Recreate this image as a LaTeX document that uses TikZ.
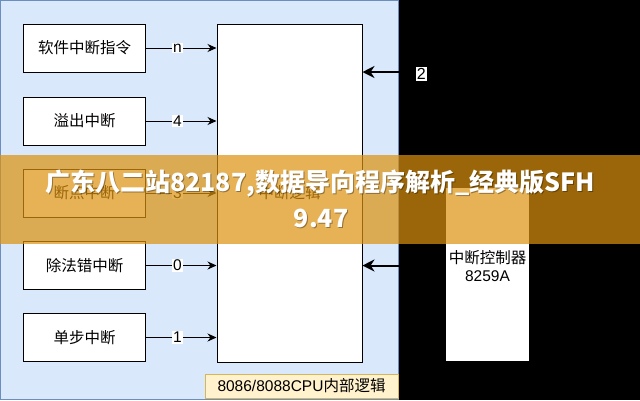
\documentclass[tikz,border=0pt]{standalone}
\usepackage{fontspec}
\setmainfont{Liberation Sans}
\newfontfamily\cjk{Noto Sans CJK SC}
\usetikzlibrary{arrows.meta}
\definecolor{cblue}{HTML}{DAE8FC}
\definecolor{cblueb}{HTML}{6C8EBF}
\definecolor{cyel}{HTML}{FFF2CC}
\definecolor{cyelb}{HTML}{D6B656}
\definecolor{cban}{RGB}{220,146,14}
\begin{document}
\begin{tikzpicture}[x=1bp,y=-1bp,
  srcbox/.style={draw=black, fill=white, line width=1bp, minimum width=121bp, minimum height=48bp, inner sep=0pt, font=\cjk\fontsize{15.5bp}{18bp}\selectfont},
  lbl/.style={fill=white, inner sep=1bp, font=\fontsize{15.5bp}{17bp}\selectfont},
  arr/.style={draw=black, line width=1bp, -{Stealth[length=9bp,width=8bp]}},
  bigarr/.style={draw=black, line width=2bp, -{Stealth[length=12bp,width=12bp]}},
  bantext/.style={text=white, font=\cjk\bfseries\fontsize{25bp}{28bp}\selectfont, inner sep=0pt},
  banshadow/.style={text=black, text opacity=0.35, font=\cjk\bfseries\fontsize{25bp}{28bp}\selectfont, inner sep=0pt}
]
\useasboundingbox (0,0) rectangle (640,400);
% background
\fill[black] (0,0) rectangle (640,400);
\filldraw[fill=cblue, draw=cblueb, line width=1bp] (0.5,0.5) rectangle (398,399.5);

% central logic block
\node[draw=black, fill=white, line width=1bp, minimum width=145bp, minimum height=338bp, inner sep=0pt,
      font=\cjk\fontsize{15.5bp}{18bp}\selectfont] (cpu) at (289.5,193) {中断逻辑};

% source boxes
\node[srcbox] (b1) at (84.5,48) {软件中断指令};
\node[srcbox] (b2) at (84.5,121) {溢出中断};
\node[srcbox] (b3) at (84.5,193) {断点中断};
\node[srcbox] (b4) at (84.5,265.5) {除法错中断};
\node[srcbox] (b5) at (84.5,337.5) {单步中断};

% CPU caption
\node[draw=cyelb, fill=cyel, line width=1bp, minimum width=193bp, minimum height=24bp, inner sep=0pt,
      font=\fontsize{15.5bp}{18bp}\selectfont] (cap) at (301.5,386) {8086/8088CPU{\cjk 内部逻辑}};

% interrupt controller
\node[fill=white, minimum width=83bp, minimum height=173bp, inner sep=0pt] (ctl) at (487.5,274.5) {};
\node[align=center, inner sep=0pt, font=\fontsize{15.5bp}{18bp}\selectfont] (ctltxt) at (487.5,266) {{\cjk 中断控制器}\\8259A};
\coordinate (src2) at (480,72);

% left arrows
\draw[arr] (b1.east) -- node[lbl, pos=0.45] {n} (b1.east -| cpu.west);
\draw[arr] (b2.east) -- node[lbl, pos=0.45] {4} (b2.east -| cpu.west);
\draw[arr] (b3.east) -- node[lbl, pos=0.45] {3} (b3.east -| cpu.west);
\draw[arr] (b4.east) -- node[lbl, pos=0.45] {0} (b4.east -| cpu.west);
\draw[arr] (b5.east) -- node[lbl, pos=0.45] {1} (b5.east -| cpu.west);

% right arrows
\draw[bigarr] (src2) -- node[lbl, font=\fontsize{16bp}{18bp}\selectfont, yshift=-2bp] {2} (src2 -| cpu.east);
\draw[bigarr] (ctl.west |- b4.east) -- (cpu.east |- b4.east);

% overlay banner
\fill[cban, opacity=0.7] (0,155) rectangle (640,244);
\node[banshadow] (t1s) at (321,185) {广东八二站82187,数据导向程序解析\_经典版SFH};
\node[banshadow] (t2s) at (322,219) {9.47};
\node[bantext] (t1) at (320,184) {广东八二站82187,数据导向程序解析\_经典版SFH};
\node[bantext] (t2) at (321,218) {9.47};
\end{tikzpicture}
\end{document}
